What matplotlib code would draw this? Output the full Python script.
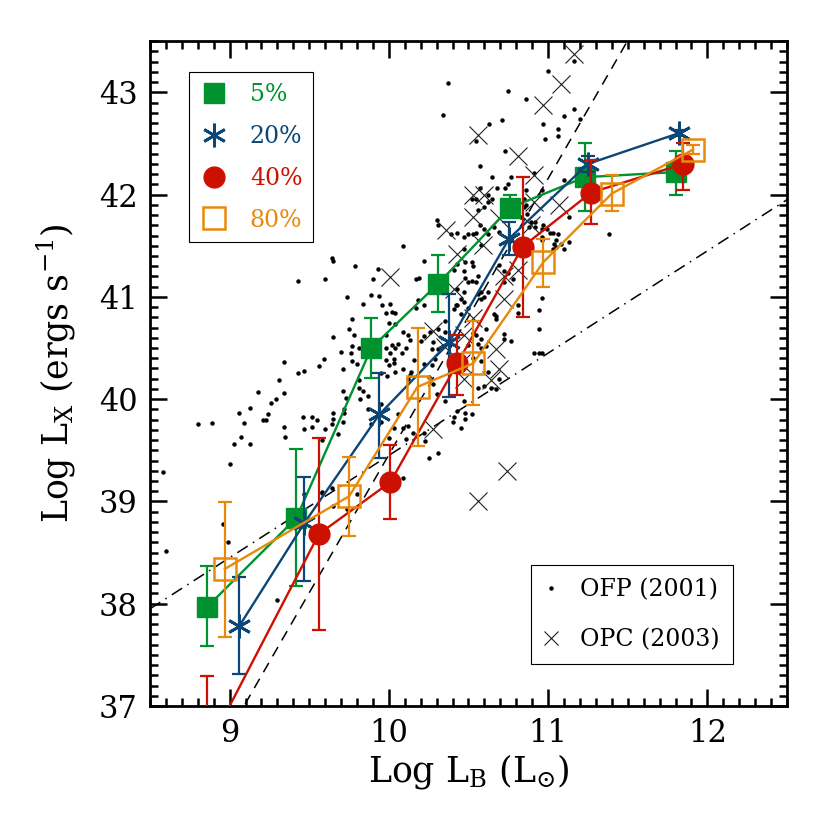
import matplotlib
matplotlib.use("Agg")
import matplotlib.pyplot as plt
from matplotlib.lines import Line2D
import numpy as np

# ---------------- data ----------------
# 5% series (green filled squares)
x5 = [8.86, 9.42, 9.89, 10.31, 10.76, 11.23, 11.80]
y5 = [37.97, 38.84, 40.50, 41.13, 41.87, 42.17, 42.22]
lo5 = [0.38, 0.67, 0.29, 0.28, 0.09, 0.33, 0.22]
hi5 = [0.40, 0.67, 0.29, 0.28, 0.13, 0.33, 0.21]

# 20% series (blue asterisks)
x20 = [9.06, 9.47, 9.94, 10.38, 10.755, 11.25, 11.82]
y20 = [37.78, 38.79, 39.85, 40.56, 41.57, 42.30, 42.60]
lo20 = [0.47, 0.57, 0.43, 0.54, 0.16, 0.08, 0.03]
hi20 = [0.48, 0.45, 0.41, 0.47, 0.16, 0.08, 0.03]

# 40% series (red filled circles)
x40 = [8.86, 9.56, 10.01, 10.43, 10.84, 11.27, 11.85]
y40 = [36.58, 38.68, 39.19, 40.35, 41.49, 42.02, 42.30]
lo40 = [0.70, 0.94, 0.36, 0.31, 0.69, 0.31, 0.26]
hi40 = [0.71, 0.94, 0.36, 0.28, 0.68, 0.32, 0.20]

# 80% series (orange open squares)
x80 = [8.97, 9.75, 10.18, 10.53, 10.97, 11.40, 11.91]
y80 = [38.34, 39.05, 40.12, 40.35, 41.34, 42.01, 42.44]
lo80 = [0.67, 0.39, 0.58, 0.41, 0.24, 0.17, 0.04]
hi80 = [0.65, 0.38, 0.58, 0.41, 0.23, 0.18, 0.04]

# OFP (2001) galaxies (small dots)
ofp = [
 (10.37,43.09),(10.34,42.78),(10.55,42.52),(10.57,42.28),(10.30,41.75),(10.31,41.70),(10.39,41.61),
 (10.47,41.59),(10.53,41.61),(10.55,41.62),(10.09,41.50),(9.64,41.38),(9.65,41.35),(9.79,41.30),
 (9.93,41.27),(10.22,41.35),(9.43,41.16),(9.60,41.17),(9.90,41.17),(10.17,41.17),(10.19,41.18),
 (10.52,41.34),(10.47,41.25),(10.48,41.18),(10.52,41.16),(10.55,41.15),(10.43,41.08),(9.74,41.00),
 (9.89,41.02),(9.94,41.01),(10.30,41.17),
 (10.01,40.93),(10.04,40.84),(10.02,40.85),(10.18,40.97),(10.17,40.89),(10.22,40.92),(9.96,40.92),
 (9.98,40.84),(9.84,40.93),(9.77,40.78),(9.75,40.69),(9.78,40.63),(9.65,40.61),(9.34,40.36),
 (9.43,40.26),(9.47,40.28),(9.56,40.32),(9.59,40.39),(9.70,40.46),(9.71,40.29),(9.31,40.19),
 (9.18,40.07),(9.34,40.06),(9.29,40.00),(9.26,39.96),(9.13,39.91),(9.06,39.86),(9.09,39.77),
 (9.24,39.85),(9.23,39.80),(9.21,39.80),(8.80,39.76),(8.89,39.77),(9.07,39.63),(9.13,39.56),
 (9.03,39.56),(9.00,39.37),(8.58,39.29),(9.34,39.73),(9.35,39.63),(9.47,39.71),(9.52,39.73),
 (9.55,39.80),(9.52,39.83),(9.46,39.83),(9.72,39.86),(9.71,39.78),(9.65,39.86),(9.65,39.81),
 (9.64,39.76),(9.60,39.71),(9.68,39.66),(9.58,39.60),(9.81,40.50),(9.77,40.52),(9.76,40.45),
 (9.77,40.37),(9.80,40.34),(9.81,40.19),(9.81,40.11),(9.71,40.08),(9.73,40.01),(9.72,39.90),
 (9.82,40.00),(9.87,40.03),(9.84,40.08),(9.98,40.63),(9.98,40.50),(10.01,40.45),(10.04,40.50),
 (10.08,40.45),(10.03,40.35),(10.04,40.27),(10.09,40.29),(10.13,40.24),(10.12,40.20),(10.00,40.74),
 (10.04,40.73),(10.09,40.66),(10.13,40.58),(10.12,40.63),(9.87,39.90),(9.95,39.95),(9.89,39.76),
 (9.95,39.78),(10.00,39.62),(10.03,39.72),(10.06,39.85),(10.09,39.72),(10.11,39.61),(10.12,39.74),
 (10.15,39.67),(10.22,39.67),(10.25,39.42),(10.31,39.47),(10.23,39.59),(10.09,39.23),(9.58,39.09),
 (9.64,39.13),(10.28,40.15),(10.35,39.98),(10.30,40.05),(10.25,40.22),(10.35,40.76),(10.35,40.66),
 (10.31,40.69),(10.26,40.66),(10.28,40.56),(10.47,40.95),(10.50,40.89),(10.43,40.92),(10.45,40.83),
 (10.52,39.85),(10.48,39.81),(10.45,39.72),(10.50,40.53),(10.55,40.63),(10.53,40.40),
 (8.96,38.78),(8.99,38.60),(8.60,38.52),(9.30,38.04),(9.47,39.07),(9.58,39.08),(9.65,38.96),
 (9.80,39.07),(9.74,38.93),(9.58,38.60),
 (10.58,41.05),(10.62,41.05),(10.66,40.83),(10.67,40.78),(10.72,40.64),(10.77,40.57),(10.72,40.59),
 (10.61,40.69),(10.58,40.59),(10.56,40.54),(10.58,40.50),(10.61,40.52),(10.53,40.65),(10.58,40.37),
 (10.62,40.27),(10.69,40.20),(10.60,40.13),(10.56,40.11),(10.64,40.11),(10.67,40.10),(10.96,40.99),
 (10.94,40.87),(10.94,40.69),(10.91,40.45),(10.94,40.45),(10.96,40.45),(10.81,40.92),
 (10.47,39.98),(10.43,39.88),(10.48,39.86),(10.41,39.83),(10.40,39.78),
 (11.00,43.21),(10.75,43.01),(10.86,42.93),(11.16,42.84),(11.10,42.77),(11.20,42.74),(10.97,42.69),
 (11.06,42.64),(11.06,42.57),(10.98,42.54),(10.71,42.73),(10.63,42.69),(10.73,42.43),(10.65,42.17),
 (10.77,42.17),(10.91,42.21),(11.10,42.14),(11.16,43.31),
 (10.68,42.06),(10.73,42.06),(10.75,42.10),(10.52,41.96),(10.55,41.96),(10.56,41.85),(10.62,41.93),
 (10.86,41.90),(10.83,41.78),(10.89,41.73),(10.88,41.68),(10.97,41.70),(10.92,41.68),(10.96,41.66),
 (10.99,41.66),(10.96,41.56),(11.01,41.62),(11.06,41.61),(11.05,41.56),(11.08,41.52),(11.13,41.78),
 (11.03,41.47),(11.38,41.61),
 (10.57,42.06),(10.62,42.00),(10.65,41.96),(10.60,41.88),(10.86,42.04),(10.94,42.00),(10.96,42.04),
 (10.85,41.96),(10.85,41.88),(10.87,41.81),(10.57,41.70),(10.50,41.61),(10.43,41.62),(10.47,41.47),
 (10.60,41.66),(10.66,41.68),(10.69,41.63),(10.58,41.51),(10.62,41.61),(10.92,41.73),(10.96,41.59),
 (11.13,41.54),(11.03,41.62),(11.04,41.52),(11.05,41.49),(11.10,41.47),(10.48,41.34),(10.43,41.32),
 (10.41,41.26),(10.50,41.15),(10.56,41.20),(10.53,41.30),(10.47,41.05),(10.45,40.98),(10.42,40.92),
 (10.41,40.88),(10.56,41.03),(10.58,40.98),(10.60,41.00),(10.69,41.31),(10.72,41.25),(10.75,41.23),
 (10.78,41.17),(10.72,41.15),(10.81,40.84),(10.67,40.81),
 (10.06,40.54),(10.02,40.53),(10.03,40.39),(9.98,40.38),(10.00,40.33),(9.95,40.26),(9.99,40.23),
 (10.11,40.50),(10.20,40.57),(10.22,40.62),(10.27,40.49),(10.31,40.49),(10.29,40.39),(10.27,40.33),
 (10.22,40.34),(10.16,40.38),(10.14,40.27),
]
ofp_x = [p[0] for p in ofp]
ofp_y = [p[1] for p in ofp]

# OPC (2003) galaxies (crosses)
opc_x = [11.16, 11.08, 10.97, 10.56, 10.81, 10.91, 10.53, 10.60, 10.53, 10.69, 10.91, 11.07,
         10.89, 10.59, 10.43, 10.36, 10.72, 10.81, 10.72, 10.41, 10.01, 10.28, 10.35, 10.47,
         10.45, 10.53, 10.67, 10.69, 10.64, 10.47, 10.28, 10.74, 10.56]
opc_y = [43.37, 43.08, 42.88, 42.58, 42.38, 42.19, 42.00, 42.00, 41.78, 41.77, 41.93, 41.90,
         41.70, 41.51, 41.42, 41.65, 41.20, 41.26, 40.98, 41.08, 41.19, 40.67, 40.51, 40.63,
         40.35, 40.79, 40.49, 40.29, 40.19, 40.20, 39.71, 39.30, 39.00]

# reference relations
dash_slope, dash_x0 = 2.70, 9.09          # dashed: passes (9.09, 37)
dd_slope, dd_icpt = 1.0, 29.45            # dash-dot: y = x + 29.45

labels = ["5%", "20%", "40%", "80%"]
colors = ["#00922E", "#0A4677", "#CC1100", "#E8890C"]

# ---------------- plot ----------------
plt.rcParams["font.family"] = ["DejaVu Serif"]
plt.rcParams["mathtext.fontset"] = "dejavuserif"

fig = plt.figure(figsize=(8.3, 8.3), dpi=100)
ax = fig.add_axes([0.1807, 0.1494, 0.7675, 0.801])
ax.set_xlim(8.5, 12.5)
ax.set_ylim(37.0, 43.5)

xx = np.array([8.5, 12.5])
ax.plot(xx, dash_slope * (xx - dash_x0) + 37.0, color="black", lw=1.1,
        linestyle=(0, (7, 5)), zorder=2)
ax.plot(xx, dd_slope * xx + dd_icpt, color="black", lw=1.1,
        linestyle=(0, (8, 4, 1, 4)), zorder=2)

ax.plot(ofp_x, ofp_y, linestyle="none", marker="o", ms=2.2, color="black", zorder=2)
ax.plot(opc_x, opc_y, linestyle="none", marker="x", ms=13, mew=0.8, color="#222222", zorder=2)

series = [
    (x5, y5, lo5, hi5, dict(marker="s", ms=15, mfc=colors[0], mec=colors[0])),
    (x20, y20, lo20, hi20, dict(marker=(6, 2, 0), ms=17, mew=2.0, mec=colors[1], mfc=colors[1])),
    (x40, y40, lo40, hi40, dict(marker="o", ms=15, mfc=colors[2], mec=colors[2])),
    (x80, y80, lo80, hi80, dict(marker="s", ms=16, mfc="none", mec=colors[3], mew=1.8)),
]
handles = []
for i, (xs, ys, lo, hi, mk) in enumerate(series):
    c = colors[i]
    ax.errorbar(xs, ys, yerr=[lo, hi], fmt="none", ecolor=c, elinewidth=1.6,
                capsize=5, capthick=1.6, zorder=3 + i)
    ax.plot(xs, ys, color=c, lw=1.7, zorder=3 + i, **mk)
    handles.append(Line2D([], [], color=c, linestyle="none", **mk))

leg1 = ax.legend(handles, labels, loc="upper left", bbox_to_anchor=(0.061, 0.953),
                 borderaxespad=0, fancybox=False, edgecolor="black", framealpha=1,
                 fontsize=17, labelcolor="linecolor", handlelength=1.2,
                 handletextpad=0.93, labelspacing=0.8, borderpad=0.45)
leg1.get_frame().set_linewidth(0.8)
ax.add_artist(leg1)

h2 = [Line2D([], [], linestyle="none", marker="o", ms=2.2, color="black"),
      Line2D([], [], linestyle="none", marker="x", ms=10, mew=0.8, color="#222222")]
leg2 = ax.legend(h2, ["OFP (2001)", "OPC (2003)"], loc="lower right",
                 bbox_to_anchor=(0.915, 0.063), borderaxespad=0, fancybox=False,
                 edgecolor="black", framealpha=1, fontsize=17, handlelength=0.6,
                 handletextpad=0.93, labelspacing=1.15, borderpad=0.55)
leg2.get_frame().set_linewidth(0.8)

ax.set_xticks([9, 10, 11, 12])
ax.set_yticks([37, 38, 39, 40, 41, 42, 43])
ax.set_xticks(np.arange(8.5, 12.51, 0.1), minor=True)
ax.set_yticks(np.arange(37.0, 43.51, 0.1), minor=True)
ax.tick_params(which="both", direction="in", top=True, right=True, width=1.8)
ax.tick_params(which="major", length=12, labelsize=22, pad=9)
ax.tick_params(which="minor", length=6)
for s in ax.spines.values():
    s.set_linewidth(2.0)

ax.set_xlabel(r"Log L$_{\rm B}$ (L$_{\odot}$)", fontsize=25, labelpad=2)
ax.set_ylabel(r"Log L$_{\rm X}$ (ergs s$^{-1}$)", fontsize=25, labelpad=15)

fig.savefig("out.png", dpi=100)
